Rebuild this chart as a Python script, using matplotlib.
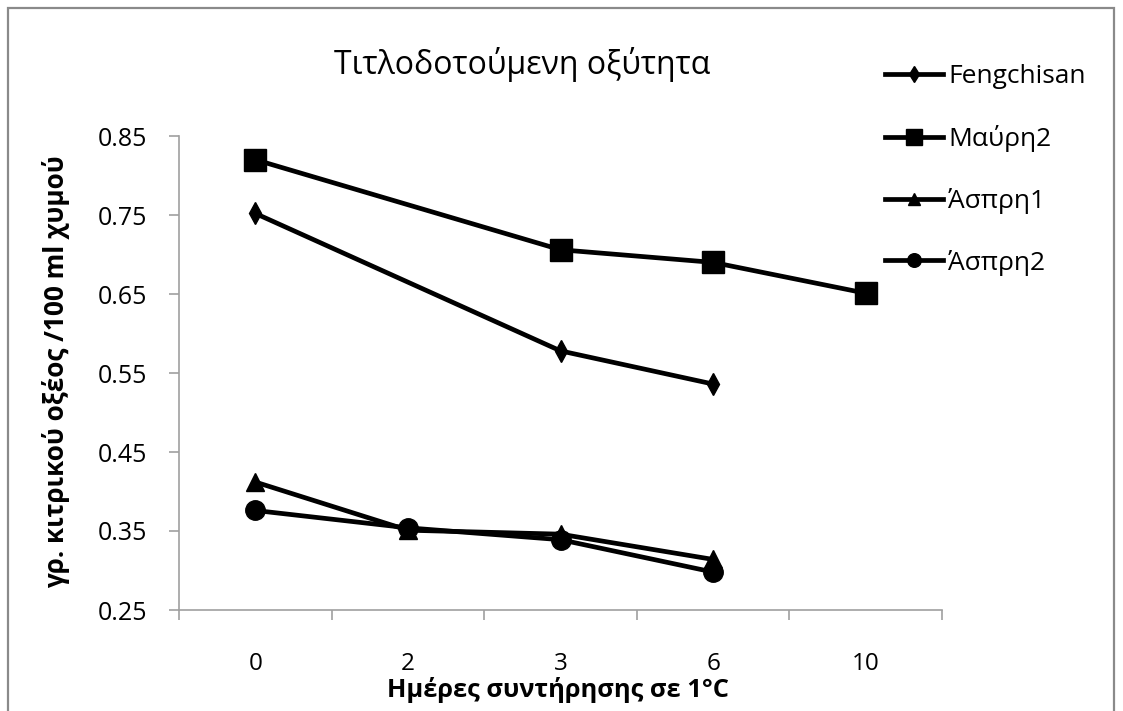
import numpy as np
import matplotlib.pyplot as plt
from matplotlib.patches import Rectangle

plt.rcParams['font.family'] = ['Open Sans', 'Noto Sans', 'DejaVu Sans']

# storage days (categorical axis) and titratable acidity per variety
days = ['0', '2', '3', '6', '10']
fengchisan = [0.752, np.nan, 0.578, 0.536, np.nan]
mavri2 = [0.820, np.nan, 0.706, 0.690, 0.651]
aspri1 = [0.412, 0.351, 0.346, 0.314, np.nan]
aspri2 = [0.376, 0.354, 0.339, 0.298, np.nan]

names = ['Fengchisan', 'Μαύρη2', 'Άσπρη1', 'Άσπρη2']
markers = ['d', 's', '^', 'o']
sizes = [11, 16, 13, 14]

W, H = 1123, 711
fig = plt.figure(figsize=(W / 100, H / 100), dpi=100)
ax = fig.add_axes([179 / W, 1 - 610 / H, 763 / W, 474 / H])

x = np.arange(len(days))
for name, vals, mk, ms in zip(names, [fengchisan, mavri2, aspri1, aspri2], markers, sizes):
    v = np.array(vals)
    ok = ~np.isnan(v)
    # gaps are bridged, as in the spreadsheet chart
    ax.plot(x[ok], v[ok], color='black', lw=3.4, marker=mk, ms=ms,
            label=name, solid_joinstyle='round')

grey = '#a0a0a0'
ax.set_xlim(-0.5, len(days) - 0.5)
ax.set_ylim(0.25, 0.85)
yt = np.arange(0.25, 0.851, 0.1)
ax.set_yticks(yt, [f'{t:.2f}' for t in yt])
ax.set_xticks(x, days)
ax.set_xticks(np.arange(-0.5, len(days), 1), minor=True)
ax.tick_params(axis='x', which='major', length=0, pad=30, labelsize=17.5)
ax.tick_params(axis='x', which='minor', length=7, width=1.2, color=grey)
ax.tick_params(axis='y', length=7, width=1.2, color=grey, pad=16, labelsize=18)
for s in ['top', 'right']:
    ax.spines[s].set_visible(False)
for s in ['left', 'bottom']:
    ax.spines[s].set_color(grey)
    ax.spines[s].set_linewidth(1.2)

fig.text(56 / W, 1 - 372 / H, 'γρ. κιτρικού οξέος /100 ml χυμού', fontsize=18.8,
         fontweight='bold', rotation=90, ha='center', va='center')
fig.text(558 / W, 1 - 690 / H, 'Ημέρες συντήρησης σε 1°C', fontsize=18.3,
         fontweight='bold', ha='center', va='center')
fig.text(522 / W, 1 - 65 / H, 'Τιτλοδοτούμενη οξύτητα', fontsize=23,
         ha='center', va='center')

fig.legend(loc='upper left', bbox_to_anchor=(885 / W, 1 - 64 / H), frameon=False,
           fontsize=19, handlelength=2.2, handletextpad=0.2, labelspacing=1.36,
           markerscale=0.7, borderpad=0, borderaxespad=0)

# outer chart border
fig.add_artist(Rectangle((8 / W, -0.05), 1106 / W, 1.05 - 8 / H, transform=fig.transFigure,
                         fill=False, edgecolor='#8a8a8a', lw=1.6))

fig.savefig('out.png', dpi=100)
